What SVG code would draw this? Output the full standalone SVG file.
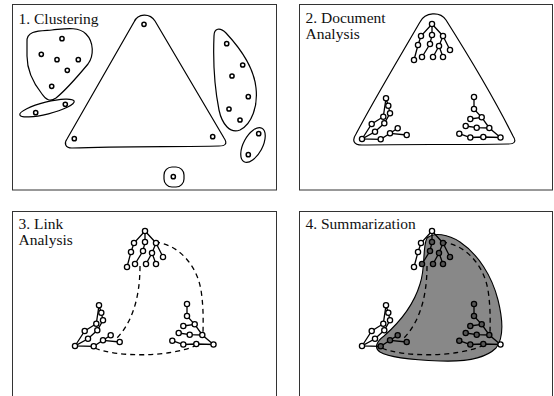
<svg xmlns="http://www.w3.org/2000/svg" xmlns:xlink="http://www.w3.org/1999/xlink" width="554" height="396" viewBox="0 0 554 396">
<style>
.panel{fill:#fff;stroke:#333;stroke-width:1}
.lbl{font-family:"Liberation Serif","Times New Roman",serif;font-size:15.5px;fill:#111}
.outline{fill:none;stroke:#000;stroke-width:1.2}
.dot{fill:#fff;stroke:#000;stroke-width:1.5}
.dash{fill:none;stroke:#000;stroke-width:1.3;stroke-dasharray:5 4}
</style>
<defs>
<path id="topE" d="M432,24 L421,36 L418,45 L414,60 M432,24 L432,35 L430,44 L422,57 M432,24 L443,36 L439,46 L433,57 M443,36 L450,50 M439,46 L443,57" fill="none" stroke="#000" stroke-width="1.3"/>
<path id="leftE" d="M362,139 L371.7,124 L383.3,116.7 L386,98.3 L388.3,105.7 L390,113.3 L384.3,123.3 L375,131.7 L362,139 L380.7,139.3 L390,133.3 L397.7,128.3 M390,133.3 L406.7,135" fill="none" stroke="#000" stroke-width="1.3"/>
<path id="rightE" d="M474,97 L474,109 L481.7,117.3 L489.3,128 L500.5,137.5 L483.3,137 L470.3,137.5 L459.3,133.7 M489.3,128 L476.7,127.7 L465.7,126 M481.7,117.3 L470.3,119" fill="none" stroke="#000" stroke-width="1.3"/>
<g id="topA" stroke="#000" stroke-width="1.3"><circle cx="432" cy="24" r="2.6"/><circle cx="421" cy="36" r="2.6"/><circle cx="418" cy="45" r="2.6"/><circle cx="414" cy="60" r="2.6"/></g>
<g id="topB" stroke="#000" stroke-width="1.3"><circle cx="432" cy="35" r="2.6"/><circle cx="443" cy="36" r="2.6"/><circle cx="430" cy="44" r="2.6"/><circle cx="439" cy="46" r="2.6"/><circle cx="450" cy="50" r="2.6"/><circle cx="422" cy="57" r="2.6"/><circle cx="433" cy="57" r="2.6"/><circle cx="443" cy="57" r="2.6"/></g>
<g id="leftA" stroke="#000" stroke-width="1.3"><circle cx="362" cy="139" r="2.6"/><circle cx="371.7" cy="124" r="2.6"/><circle cx="383.3" cy="116.7" r="2.6"/><circle cx="386" cy="98.3" r="2.6"/><circle cx="388.3" cy="105.7" r="2.6"/><circle cx="390" cy="113.3" r="2.6"/><circle cx="384.3" cy="123.3" r="2.6"/><circle cx="375" cy="131.7" r="2.6"/></g>
<g id="leftB" stroke="#000" stroke-width="1.3"><circle cx="380.7" cy="139.3" r="2.6"/><circle cx="390" cy="133.3" r="2.6"/><circle cx="397.7" cy="128.3" r="2.6"/><circle cx="406.7" cy="135" r="2.6"/></g>
<g id="rightA" stroke="#000" stroke-width="1.3"><circle cx="500.5" cy="137.5" r="2.6"/></g>
<g id="rightB" stroke="#000" stroke-width="1.3"><circle cx="474" cy="97" r="2.6"/><circle cx="474" cy="109" r="2.6"/><circle cx="481.7" cy="117.3" r="2.6"/><circle cx="470.3" cy="119" r="2.6"/><circle cx="489.3" cy="128" r="2.6"/><circle cx="476.7" cy="127.7" r="2.6"/><circle cx="465.7" cy="126" r="2.6"/><circle cx="483.3" cy="137" r="2.6"/><circle cx="470.3" cy="137.5" r="2.6"/><circle cx="459.3" cy="133.7" r="2.6"/></g>
<g id="links">
<path class="dash" d="M155,242 C176,244 196,262 201,290 C204,310 203,325 203,335"/>
<path class="dash" d="M140,266 C140,300 131,324 116,339"/>
<path class="dash" d="M95,348 C115,357 170,358 197,345"/>
</g>
</defs>

<g id="panel1">
<rect class="panel" x="12.5" y="4.5" width="264" height="185.5"/>
<text class="lbl" x="18.5" y="23.5">1. Clustering</text>
<path class="outline" d="M134,22 C138,13 150,13 155,21 L224,138 C228,144 225,146 219,146 C180,147 120,146 72,148 C65,148 64,143 67,139 Z"/>
<path class="outline" d="M27,42 C26,30 40,31 52,30 C64,29 78,26 86,34 C94,42 94,56 88,64 C78,76 66,90 56,98 C50,102 46,100 42,94 C34,84 27,70 27,56 Z"/>
<ellipse class="outline" cx="47" cy="108" rx="28" ry="6" transform="rotate(-14 47 108)"/>
<path class="outline" d="M214,36 C214,28 220,27 226,33 C240,48 254,68 256,88 C258,106 252,124 240,130 C230,134 222,124 219,110 C215,90 213,60 214,36 Z"/>
<ellipse class="outline" cx="253" cy="145" rx="9.5" ry="19" transform="rotate(28 253 145)"/>
<rect class="outline" x="164" y="167" width="20" height="20" rx="8"/>
<g>
<circle class="dot" cx="144" cy="24.3" r="2.1"/>
<circle class="dot" cx="62" cy="38.7" r="2.1"/>
<circle class="dot" cx="41.3" cy="54.3" r="2.1"/>
<circle class="dot" cx="57" cy="59.7" r="2.1"/>
<circle class="dot" cx="78.3" cy="59.7" r="2.1"/>
<circle class="dot" cx="67.3" cy="70.3" r="2.1"/>
<circle class="dot" cx="51.7" cy="86.3" r="2.1"/>
<circle class="dot" cx="65.3" cy="104.3" r="2.1"/>
<circle class="dot" cx="35.7" cy="112.7" r="2.1"/>
<circle class="dot" cx="74.3" cy="138.7" r="2.1"/>
<circle class="dot" cx="212.7" cy="136.7" r="2.1"/>
<circle class="dot" cx="226.7" cy="43.7" r="2.1"/>
<circle class="dot" cx="242.7" cy="65" r="2.1"/>
<circle class="dot" cx="232" cy="76" r="2.1"/>
<circle class="dot" cx="248.3" cy="96.7" r="2.1"/>
<circle class="dot" cx="229" cy="109" r="2.1"/>
<circle class="dot" cx="240" cy="120" r="2.1"/>
<circle class="dot" cx="258.7" cy="133.7" r="2.1"/>
<circle class="dot" cx="248.3" cy="154.7" r="2.1"/>
<circle class="dot" cx="173.3" cy="176.7" r="2.1"/>
</g>
</g>

<g id="panel2">
<rect class="panel" x="299.5" y="4.5" width="253" height="185.5"/>
<text class="lbl" x="305.5" y="22.5">2. Document</text>
<text class="lbl" x="305.5" y="38.5">Analysis</text>
<path class="outline" d="M420,22 C425,12 440,11 446,20 C470,58 495,100 513,136 C517,142 514,144 508,144 C460,145 400,144 362,145 C353,145 352,140 356,134 C375,98 398,60 420,22 Z"/>
<use href="#topE"/><use href="#leftE"/><use href="#rightE"/>
<use href="#topA" fill="#fff"/><use href="#topB" fill="#fff"/>
<use href="#leftA" fill="#fff"/><use href="#leftB" fill="#fff"/>
<use href="#rightA" fill="#fff"/><use href="#rightB" fill="#fff"/>
</g>

<g id="panel3">
<rect class="panel" x="12.5" y="211.5" width="264" height="200"/>
<text class="lbl" x="18.5" y="228.5">3. Link</text>
<text class="lbl" x="18.5" y="244.5">Analysis</text>
<use href="#links"/>
<g transform="translate(-287,207)">
<use href="#topE"/><use href="#leftE"/><use href="#rightE"/>
<use href="#topA" fill="#fff"/><use href="#topB" fill="#fff"/>
<use href="#leftA" fill="#fff"/><use href="#leftB" fill="#fff"/>
<use href="#rightA" fill="#fff"/><use href="#rightB" fill="#fff"/>
</g>
</g>

<g id="panel4">
<rect class="panel" x="299.5" y="211.5" width="253" height="200"/>
<text class="lbl" x="305.5" y="228.5">4. Summarization</text>
<path d="M427,238 C434,232 448,234 460,242 C478,254 492,276 498,300 C503,320 504,338 496,348 C486,358 466,362 440,361 C414,360 390,358 380,352 C374,348 376,342 384,336 C400,322 414,304 420,284 C426,266 422,248 427,238 Z" fill="#888" stroke="#000" stroke-width="1.1"/>
<use href="#links" transform="translate(287,0)"/>
<g transform="translate(0,207)">
<use href="#topE"/><use href="#leftE"/><use href="#rightE"/>
<use href="#topA" fill="#fff"/><use href="#topB" fill="#555"/>
<use href="#leftA" fill="#fff"/><use href="#leftB" fill="#555"/>
<use href="#rightA" fill="#fff"/><use href="#rightB" fill="#555"/>
</g>
</g>
</svg>
